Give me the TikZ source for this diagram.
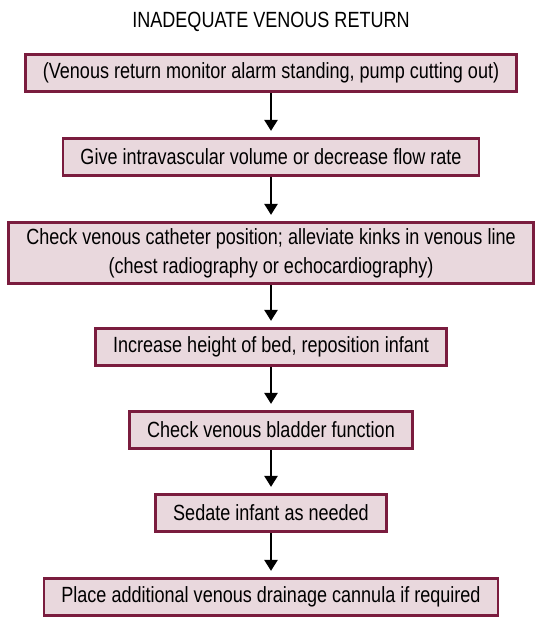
\documentclass[tikz,border=0pt]{standalone}
\usepackage{fontspec}
\setmainfont{Liberation Sans}[FakeStretch=0.82]
\usepackage{tikz}
\usetikzlibrary{arrows.meta,positioning}
\definecolor{boxrim}{RGB}{122,28,62}
\definecolor{boxfill}{RGB}{233,216,221}

\tikzset{
  stepbox/.style={draw=boxrim,fill=boxfill,line width=2.7pt,inner xsep=17.5pt,
    minimum height=37.5pt,align=center},
  flowarrow/.style={-{Triangle[length=11pt,width=13pt]},line width=2.5pt,shorten >=6pt}
}

\begin{document}
\begin{tikzpicture}[x=1pt,y=-1pt,font=\fontsize{22}{29}\selectfont]
  \useasboundingbox (0,0) rectangle (542,620);
  \node[anchor=base] (title) at (271,28) {INADEQUATE VENOUS RETURN};
  \node[stepbox] (alarm) at (271,73)
    {(Venous return monitor alarm standing, pump cutting out)};
  \node[stepbox] (volume) at (271,157)
    {Give intravascular volume or decrease flow rate};
  \node[stepbox,minimum height=61.5pt] (catheter) at (271,253)
    {Check venous catheter position; alleviate kinks in venous line\\
     (chest radiography or echocardiography)};
  \node[stepbox] (bed) at (271,347) {Increase height of bed, reposition infant};
  \node[stepbox] (bladder) at (271,430) {Check venous bladder function};
  \node[stepbox] (sedate) at (271,513) {Sedate infant as needed};
  \node[stepbox] (cannula) at (271,597)
    {Place additional venous drainage cannula if required};
  \draw[flowarrow] (alarm) -- (volume);
  \draw[flowarrow] (volume) -- (catheter);
  \draw[flowarrow] (catheter) -- (bed);
  \draw[flowarrow] (bed) -- (bladder);
  \draw[flowarrow] (bladder) -- (sedate);
  \draw[flowarrow] (sedate) -- (cannula);
\end{tikzpicture}
\end{document}
